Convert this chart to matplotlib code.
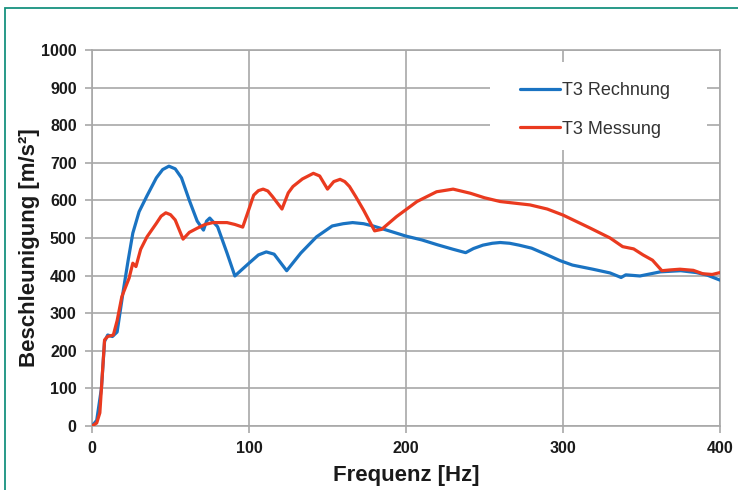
import matplotlib
matplotlib.use("Agg")
from matplotlib import pyplot as plt
from matplotlib.patches import Rectangle

# Curve data (frequency in Hz, acceleration in m/s^2)
freq_rechnung = [0, 3, 6, 8, 10, 13, 16, 20, 23, 26, 30, 35, 41, 45, 49, 53,
                 57, 62, 67, 71, 73, 75, 80, 86, 91, 96, 100, 106, 111, 116,
                 120, 124, 133, 143, 153, 160, 166, 173, 179, 190, 200, 210,
                 220, 230, 238, 243, 249, 255, 260, 266, 272, 280, 290, 298,
                 306, 319, 330, 337, 340, 349, 362, 375, 385, 392, 400]
acc_rechnung = [0, 15, 100, 225, 242, 238, 250, 362, 440, 513, 570, 612, 660,
                682, 691, 684, 660, 600, 545, 521, 545, 553, 530, 460, 399,
                418, 433, 455, 463, 457, 435, 413, 460, 503, 532, 538, 541,
                538, 532, 518, 505, 495, 482, 470, 461, 472, 481, 486, 488,
                486, 481, 473, 455, 440, 428, 417, 407, 395, 402, 399, 410,
                413, 408, 401, 388]

freq_messung = [0, 3, 5, 8, 10, 13.6, 16, 19, 23.6, 26, 28, 31, 35, 41, 44,
                47, 50, 53, 58, 62, 67, 72, 77, 86, 91, 96, 99, 103, 106, 109,
                112, 115, 121, 125, 128, 134, 141, 145, 150, 154, 158, 161,
                164, 168, 173, 180, 184.5, 194, 207, 219.5, 230, 241, 250,
                260, 279, 290, 300, 317, 330, 338, 345, 351, 357, 363, 368,
                374.5, 383, 389, 395, 400]
acc_messung = [0, 8, 35, 229, 238, 242, 280, 344, 393, 433, 424, 470, 503,
               539, 558, 567, 562, 548, 497, 515, 526, 536, 541, 541, 536,
               529, 565, 614, 626, 630, 625, 610, 577, 620, 637, 657, 672,
               665, 630, 650, 656, 650, 637, 610, 574, 519, 523, 557, 597,
               623, 630, 619, 607, 597, 588, 577, 561, 527, 500, 477, 471,
               455, 441, 413, 415, 417, 414, 405, 403, 408]

x_ticks = [0, 100, 200, 300, 400]
y_ticks = list(range(0, 1001, 100))

blue = '#1a73c2'
red = '#ea3a1f'
grid_grey = '#a8a8a8'

plt.rcParams['font.family'] = ['Liberation Sans', 'DejaVu Sans']

fig = plt.figure(figsize=(7.38, 4.9), dpi=100)
ax = fig.add_axes([92 / 738, 1 - 426 / 490, 628 / 738, 376 / 490])

# Teal frame around the picture
fig.patches.append(Rectangle((5 / 738, -0.1), 1.1, 1 - 8 / 490 + 0.1,
                             transform=fig.transFigure, fill=False,
                             edgecolor='#17927f', linewidth=1.3))

ax.plot(freq_rechnung, acc_rechnung, color=blue, lw=2.3,
        label='T3 Rechnung', solid_capstyle='round',
        solid_joinstyle='round', zorder=3)
ax.plot(freq_messung, acc_messung, color=red, lw=2.3,
        label='T3 Messung', solid_capstyle='round',
        solid_joinstyle='round', zorder=4)

ax.set_xlim(0, 400)
ax.set_ylim(0, 1000)
ax.set_xticks(x_ticks)
ax.set_yticks(y_ticks)
ax.grid(True, color=grid_grey, lw=1.2)
ax.set_axisbelow(True)
for s in ax.spines.values():
  s.set_color(grid_grey)
  s.set_linewidth(1.2)
ax.tick_params(length=5, width=1.2, color=grid_grey, labelsize=11.5,
               labelcolor='#1a1a1a')
ax.tick_params(axis='y', pad=6)
ax.tick_params(axis='x', pad=6)
for lab in ax.get_xticklabels() + ax.get_yticklabels():
  lab.set_fontweight('bold')

ax.set_xlabel('Frequenz [Hz]', fontsize=16, fontweight='bold',
              color='#1a1a1a')
ax.set_ylabel('Beschleunigung [m/s²]', fontsize=16, fontweight='bold',
              color='#1a1a1a')
ax.xaxis.set_label_coords(0.5, -0.104)
ax.yaxis.set_label_coords(-0.083, 0.475)

# White box behind the legend, hiding the grid there
ax.add_patch(Rectangle((0.6338, 0.734), 0.3455, 0.234,
                       transform=ax.transAxes, facecolor='white',
                       edgecolor='none', zorder=2))

leg = ax.legend(loc='upper left', bbox_to_anchor=(0.6815, 0.915),
                frameon=False, fontsize=13, handlelength=2.2,
                handletextpad=0.1, labelspacing=1.2, borderpad=0,
                borderaxespad=0)
for t in leg.get_texts():
  t.set_color('#333333')

plt.savefig('out.png', dpi=100)
